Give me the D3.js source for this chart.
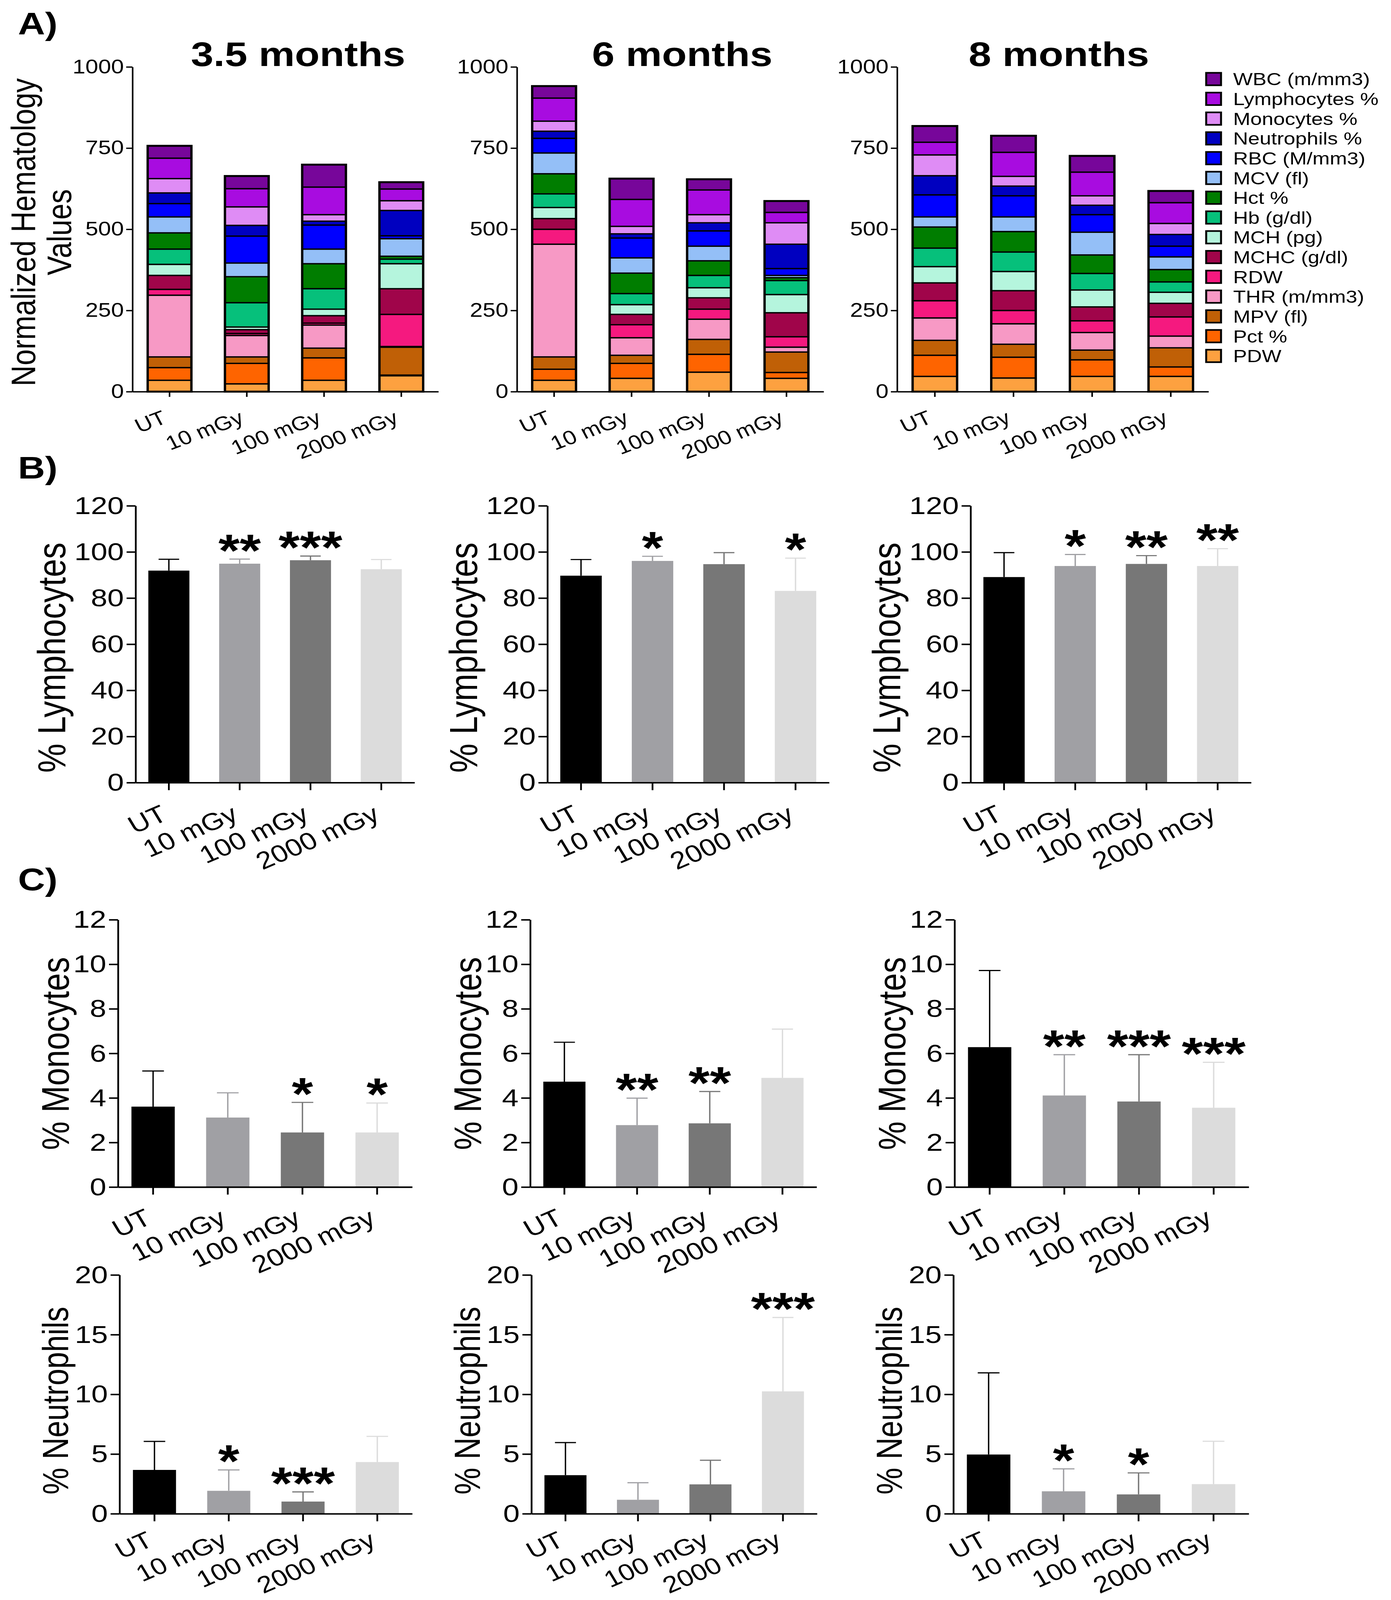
<!DOCTYPE html>
<html><head><meta charset="utf-8">
<script src="https://cdn.jsdelivr.net/npm/d3@7"></script>
<style>html,body{margin:0;padding:0;background:#fff;overflow:hidden}svg{display:block}</style>
</head><body>
<script>
// ---------------- DATA ----------------
const groups = ["UT", "10 mGy", "100 mGy", "2000 mGy"];

// stack order bottom -> top
const hemaParams = ["PDW", "Pct %", "MPV (fl)", "THR (m/mm3)", "RDW", "MCHC (g/dl)", "MCH (pg)",
  "Hb (g/dl)", "Hct %", "MCV (fl)", "RBC (M/mm3)", "Neutrophils %", "Monocytes %", "Lymphocytes %", "WBC (m/mm3)"];
const hemaColors = ["#fda140", "#fe6400", "#c06006", "#f799c5", "#f5197f", "#a0054a", "#b5f5dd",
  "#06c07b", "#007d00", "#94bff7", "#0000ff", "#0000c0", "#df8cf5", "#a80ce0", "#77069a"];

// normalized hematology values per group (UT, 10, 100, 2000 mGy), order as hemaParams
const hema35 = [
  [35, 39, 33, 190, 18, 43, 34, 47, 50, 49, 41, 33, 44, 63, 38],
  [24, 63, 20, 66, 6, 12, 8, 75, 80, 42, 83, 33, 57, 56, 39],
  [35, 69, 30, 71, 6, 23, 20, 63, 77, 45, 74, 12, 20, 85, 69],
  [49, 2, 86, 2, 99, 79, 77, 14, 9, 54, 9, 78, 30, 36, 21]
];
const hema6 = [
  [35, 34, 38, 347, 46, 33, 34, 42, 62, 64, 45, 22, 31, 71, 37],
  [41, 46, 25, 54, 40, 32, 30, 34, 63, 47, 61, 13, 23, 83, 64],
  [60, 55, 46, 62, 31, 35, 31, 38, 45, 45, 47, 25, 25, 76, 33],
  [41, 18, 63, 15, 32, 74, 56, 43, 9, 7, 21, 75, 66, 32, 35]
];
const hema8 = [
  [47, 65, 46, 69, 53, 55, 50, 57, 65, 31, 68, 59, 64, 39, 50],
  [42, 64, 40, 63, 41, 61, 59, 60, 63, 45, 65, 30, 30, 74, 51],
  [47, 51, 30, 54, 36, 43, 52, 51, 57, 70, 54, 29, 29, 73, 50],
  [47, 29, 59, 36, 59, 42, 34, 32, 38, 39, 33, 36, 34, 64, 36]
];
const hemaTitles = ["3.5 months", "6 months", "8 months"];
const hemaTicks = [0, 250, 500, 750, 1000];

const lymphMean35 = [91.9, 94.9, 96.4, 92.5], lymphSD35 = [4.9, 2.0, 1.8, 4.2], lymphStars35 = ["", "**", "***", ""];
const lymphMean6 = [89.7, 96.1, 94.7, 83.1], lymphSD6 = [7.0, 2.0, 5.0, 14.2], lymphStars6 = ["", "*", "", "*"];
const lymphMean8 = [89.1, 93.9, 94.8, 93.9], lymphSD8 = [10.6, 5.0, 3.6, 7.5], lymphStars8 = ["", "*", "**", "**"];
const lymphTicks = [0, 20, 40, 60, 80, 100, 120];

const monoMean35 = [3.61, 3.12, 2.45, 2.45], monoSD35 = [1.60, 1.11, 1.35, 1.32], monoStars35 = ["", "", "*", "*"];
const monoMean6 = [4.73, 2.78, 2.86, 4.90], monoSD6 = [1.77, 1.21, 1.43, 2.19], monoStars6 = ["", "**", "**", ""];
const monoMean8 = [6.28, 4.11, 3.84, 3.56], monoSD8 = [3.44, 1.83, 2.10, 2.04], monoStars8 = ["", "**", "***", "***"];
const monoTicks = [0, 2, 4, 6, 8, 10, 12];

const neutMean35 = [3.67, 1.92, 1.02, 4.33], neutSD35 = [2.39, 1.75, 0.81, 2.15], neutStars35 = ["", "*", "***", ""];
const neutMean6 = [3.23, 1.17, 2.46, 10.25], neutSD6 = [2.73, 1.43, 2.02, 6.19], neutStars6 = ["", "", "", "***"];
const neutMean8 = [4.96, 1.88, 1.62, 2.48], neutSD8 = [6.84, 1.88, 1.80, 3.59], neutStars8 = ["", "*", "*", ""];
const neutTicks = [0, 5, 10, 15, 20];

const barColors = ["#000000", "#a0a0a4", "#777777", "#dcdcdc"];

// ---------------- DRAWING ----------------
const FONT = "'Liberation Sans', Arial, Helvetica, sans-serif";
const W = 3560, H = 4878;
// the figure is laid out on a 3560x4878 canvas and fitted to the visible viewport
const vw = window.innerWidth || W, vh = window.innerHeight || H;
const svg = d3.select("body").append("svg").attr("width", vw).attr("height", vh)
  .attr("viewBox", `0 0 ${W} ${H}`).attr("preserveAspectRatio", "none")
  .style("font-family", FONT);
svg.append("rect").attr("width", W).attr("height", H).attr("fill", "#fff");

function styleAxis(g, fontSize, sw) {
  g.select(".domain").attr("stroke", "#000").attr("stroke-width", sw);
  g.selectAll(".tick line").attr("stroke", "#000").attr("stroke-width", sw);
  g.selectAll(".tick text").attr("fill", "#000").style("font-size", fontSize + "px").style("font-family", FONT);
}

// Panel letters
[["A)", 105], ["B)", 1459], ["C)", 2714]].forEach(([t, yb]) => {
  svg.append("text").attr("x", 46).attr("y", yb).text(t)
    .style("font-size", "96px").style("font-weight", "bold");
});

// ---- Panel A: stacked bars ----
const yA = d3.scaleLinear().domain([0, 1000]).range([1194, 204]);
const stackGen = d3.stack().keys(hemaParams);
const aLayout = [
  { data: hema35, axisX: 339, axisEnd: 1122, titleX: 763 },
  { data: hema6, axisX: 1323, axisEnd: 2108, titleX: 1746 },
  { data: hema8, axisX: 2296, axisEnd: 3093, titleX: 2710 }
];
aLayout.forEach((c, ci) => {
  const rows = groups.map((gname, gi) => {
    const o = { group: gname };
    hemaParams.forEach((p, pi) => o[p] = c.data[gi][pi]);
    return o;
  });
  const series = stackGen(rows);
  const x = d3.scaleBand().domain(groups).range([c.axisX, c.axisEnd]).paddingInner(0.434).paddingOuter(0.197);
  const g = svg.append("g");
  series.forEach((s, si) => {
    g.selectAll(null).data(s).join("rect")
      .attr("x", d => x(d.data.group)).attr("width", x.bandwidth())
      .attr("y", d => yA(d[1])).attr("height", d => yA(d[0]) - yA(d[1]))
      .attr("fill", hemaColors[si]).attr("stroke", "#000").attr("stroke-width", 4);
  });
  const last = series[series.length - 1];
  g.selectAll(null).data(last).join("rect")
    .attr("x", d => x(d.data.group)).attr("width", x.bandwidth())
    .attr("y", d => yA(d[1])).attr("height", d => yA(0) - yA(d[1]))
    .attr("fill", "none").attr("stroke", "#000").attr("stroke-width", 6);

  const ya = svg.append("g").attr("transform", `translate(${c.axisX},0)`)
    .call(d3.axisLeft(yA).tickValues(hemaTicks).tickFormat(d3.format("d")).tickSize(16).tickPadding(6).tickSizeOuter(0));
  styleAxis(ya, 59, 4);
  const xa = svg.append("g").attr("transform", `translate(0,${yA(0)})`)
    .call(d3.axisBottom(x).tickSize(16).tickSizeOuter(0));
  styleAxis(xa, 60, 4);
  xa.selectAll(".tick text").attr("x", 0).attr("y", 0).attr("dy", 0)
    .attr("transform", "translate(-4,94) rotate(-24)").style("text-anchor", "end");

  svg.append("text").attr("x", c.titleX).attr("y", 201).attr("text-anchor", "middle")
    .text(hemaTitles[ci]).style("font-size", "104px").style("font-weight", "bold");
});
// Panel A y label
svg.append("text").attr("transform", "translate(90,708) rotate(-90)")
  .attr("text-anchor", "middle").style("font-size", "88px").text("Normalized Hematology");
svg.append("text").attr("transform", "translate(182,708) rotate(-90)")
  .attr("text-anchor", "middle").style("font-size", "88px").text("Values");

// Legend
const legendItems = hemaParams.slice().reverse();
const legendCols = hemaColors.slice().reverse();
const lg = svg.append("g");
legendItems.forEach((name, i) => {
  const cy = 241 + i * 60.3;
  lg.append("rect").attr("x", 3087).attr("y", cy - 19).attr("width", 38).attr("height", 38)
    .attr("fill", legendCols[i]).attr("stroke", "#000").attr("stroke-width", 5);
  lg.append("text").attr("x", 3156).attr("y", cy).attr("dy", "0.36em").text(name)
    .style("font-size", "53px");
});

// ---- Bar charts with SD ----
function barChart(cfg) {
  const { means, sds, stars, axisX, axisEnd, y0, y1, ticks, label, labelGap, labelY, labelSize, xLabOff, xLabSize } = cfg;
  const yMax = ticks[ticks.length - 1];
  const x = d3.scaleBand().domain(groups).range([axisX, axisEnd]).paddingInner(0.42).paddingOuter(0.18);
  const y = d3.scaleLinear().domain([0, yMax]).range([y0, y1]);
  const g = svg.append("g");
  const bw = x.bandwidth();
  groups.forEach((gn, i) => {
    const cx = x(gn) + bw / 2;
    const col = barColors[i];
    g.append("line").attr("x1", cx).attr("x2", cx).attr("y1", y(means[i])).attr("y2", y(means[i] + sds[i]))
      .attr("stroke", col).attr("stroke-width", 3.5);
    g.append("line").attr("x1", cx - bw * 0.25).attr("x2", cx + bw * 0.25)
      .attr("y1", y(means[i] + sds[i])).attr("y2", y(means[i] + sds[i]))
      .attr("stroke", col).attr("stroke-width", 3.5);
    if (stars[i]) {
      g.append("text").attr("x", cx).attr("y", y(means[i] + sds[i]) + 22).attr("text-anchor", "middle")
        .text(stars[i]).style("font-size", "140px").style("font-weight", "bold");
    }
  });
  g.selectAll("rect.bar").data(groups).join("rect").attr("class", "bar")
    .attr("x", d => x(d)).attr("width", bw)
    .attr("y", (d, i) => y(means[i])).attr("height", (d, i) => y(0) - y(means[i]))
    .attr("fill", (d, i) => barColors[i]);

  const ya = svg.append("g").attr("transform", `translate(${axisX},0)`)
    .call(d3.axisLeft(y).tickValues(ticks).tickFormat(d3.format("d")).tickSize(23).tickPadding(7).tickSizeOuter(0));
  styleAxis(ya, 76, 4.5);
  const xa = svg.append("g").attr("transform", `translate(0,${y0})`)
    .call(d3.axisBottom(x).tickSize(23).tickSizeOuter(0));
  styleAxis(xa, xLabSize, 4.5);
  xa.selectAll(".tick text").attr("x", 0).attr("y", 0).attr("dy", 0)
    .attr("transform", `translate(0,${xLabOff}) rotate(-27)`).style("text-anchor", "end");

  svg.append("text").attr("transform", `translate(${axisX - labelGap},${labelY}) rotate(-90)`)
    .attr("text-anchor", "middle").text(label).style("font-size", labelSize + "px");
}

const bRow = { y0: 2386, y1: 1542, ticks: lymphTicks, label: "% Lymphocytes", labelGap: 180, labelY: 2005, labelSize: 100, xLabOff: 112, xLabSize: 74 };
barChart(Object.assign({ means: lymphMean35, sds: lymphSD35, stars: lymphStars35, axisX: 347, axisEnd: 1061 }, bRow));
barChart(Object.assign({ means: lymphMean6, sds: lymphSD6, stars: lymphStars6, axisX: 1401, axisEnd: 2122 }, bRow));
barChart(Object.assign({ means: lymphMean8, sds: lymphSD8, stars: lymphStars8, axisX: 2484, axisEnd: 3202 }, bRow));

const mRow = { y0: 3619, y1: 2804, ticks: monoTicks, label: "% Monocytes", labelGap: 126, labelY: 3212, labelSize: 98, xLabOff: 110, xLabSize: 74 };
barChart(Object.assign({ means: monoMean35, sds: monoSD35, stars: monoStars35, axisX: 302, axisEnd: 1055 }, mRow));
barChart(Object.assign({ means: monoMean6, sds: monoSD6, stars: monoStars6, axisX: 1357, axisEnd: 2090 }, mRow));
barChart(Object.assign({ means: monoMean8, sds: monoSD8, stars: monoStars8, axisX: 2443, axisEnd: 3196 }, mRow));

const nRow = { y0: 4615, y1: 3887, ticks: neutTicks, label: "% Neutrophils", labelGap: 132, labelY: 4270, labelSize: 92, xLabOff: 96, xLabSize: 71 };
barChart(Object.assign({ means: neutMean35, sds: neutSD35, stars: neutStars35, axisX: 306, axisEnd: 1055 }, nRow));
barChart(Object.assign({ means: neutMean6, sds: neutSD6, stars: neutStars6, axisX: 1360, axisEnd: 2091 }, nRow));
barChart(Object.assign({ means: neutMean8, sds: neutSD8, stars: neutStars8, axisX: 2440, axisEnd: 3196 }, nRow));
</script>
</body></html>
